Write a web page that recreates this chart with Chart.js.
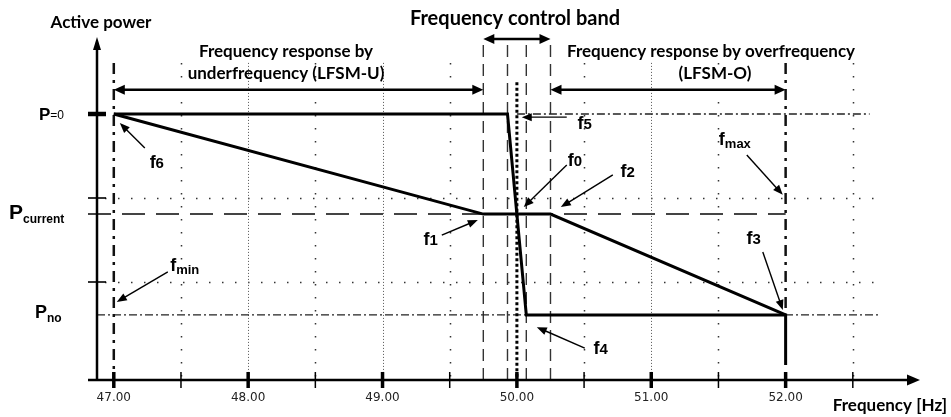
<!DOCTYPE html>
<html>
<head>
<meta charset="utf-8">
<title>LFSM frequency response</title>
<script src="https://cdn.jsdelivr.net/npm/chart.js@4.4.1/dist/chart.umd.min.js"></script>
<style>
  html, body { margin: 0; padding: 0; background: #fff; }
  canvas { display: block; }
</style>
</head>
<body>
<canvas id="chart" width="951" height="417"></canvas>
<script>
// Axis ranges (frequency in Hz, active power in % of plot height)
const xMin = 46.875, xMax = 53.0;
const yMin = 0, yMax = 100;

// Power levels
const P0 = 76.0, Pcur = 47.4, Pno = 18.6;
const pTicks = [52.0, 28.0];

// Frequency axis
const xTicks = [47, 48, 49, 50, 51, 52];
const xMinorTicks = [47.5, 48.5, 49.5, 50.5, 51.5, 52.5];
const gridFine = [48, 49, 51];
const gridTop = 90.6;
const gridRight = 52.66;

// Characteristic starting at P=0 (steps through the control band)
const stepFreq = [47.00, 49.93, 50.07, 52.00, 52.00];
const stepPower = [P0, P0, Pno, Pno, 4.3];

// Characteristic starting at P current (LFSM-U / LFSM-O droop)
const droopFreq = [47.00, 49.75, 50.25, 52.00];
const droopPower = [P0, Pcur, Pcur, Pno];

// Control band edges and limits
const bandFreq = [49.75, 49.93, 50.07, 50.25];
const fNom = 50.0, fMin = 47.0, fMax = 52.0;

// Annotations: text, subscript, label x/y, arrow from x/y, arrow tip x/y
const notes = [
    ['f', '6',   47.320, 62.3, 47.231, 66.3, 47.045, 73.4],
    ['f', 'min', 47.528, 33.1, 47.402, 30.9, 47.022, 22.3],
    ['f', '1',   49.359, 40.3, 49.441, 41.4, 49.709, 45.7],
    ['f', '0',   50.431, 62.9, 50.371, 61.4, 50.051, 49.4],
    ['f', '2',   50.825, 60.0, 50.714, 58.6, 50.327, 49.4],
    ['f', '5',   50.505, 73.7, 50.371, 75.1, 50.036, 75.1],
    ['f', 'max', 51.622, 69.1, 51.711, 64.3, 51.979, 52.9],
    ['f', '3',   51.763, 40.6, 51.830, 36.6, 51.979, 20.0],
    ['f', '4',   50.624, 9.4,  50.505, 9.1,  50.148, 15.1]
];

// Double arrows: from, to, level
const spans = [
    [49.75, 50.25, 97.4],
    [47.00, 49.75, 82.9],
    [50.25, 52.00, 82.9]
];

function pts(xs, ys) {
    return xs.map((x, i) => ({ x: x, y: ys[i] }));
}

function lineSet(data, width, dash, color, extra) {
    return Object.assign({
        data: data,
        showLine: true,
        pointRadius: 0,
        borderColor: color || '#000',
        borderWidth: width,
        borderDash: dash || [],
        borderCapStyle: 'butt',
        borderJoinStyle: 'miter',
        fill: false,
        tension: 0
    }, extra || {});
}

const datasets = [
    lineSet(pts(stepFreq, stepPower), 3, [], '#000', { order: 0 }),
    lineSet(pts(droopFreq, droopPower), 3, [], '#000', { order: 1 }),
    lineSet([{ x: 46.808, y: Pcur }, { x: fMax, y: Pcur }], 2, [23, 11], '#444', { order: 5, clip: false }),
    lineSet([{ x: fNom, y: P0 }, { x: 52.625, y: P0 }], 1.3, [8, 3, 2, 3], '#222', { order: 5 }),
    lineSet([{ x: xMin, y: Pno }, { x: 52.70, y: Pno }], 1.3, [8, 3, 2, 3], '#222', { order: 5 }),
    lineSet([{ x: fMin, y: gridTop }, { x: fMin, y: 2.3 }], 2.5, [11, 6, 3, 6], '#111', { order: 3 }),
    lineSet([{ x: fMax, y: gridTop }, { x: fMax, y: Pno }], 2.5, [11, 6, 3, 6], '#111', { order: 3 }),
    lineSet([{ x: fNom, y: 85.1 }, { x: fNom, y: 0 }], 3, [3, 2.5], '#000', { order: 2 })
];
bandFreq.forEach(f => {
    datasets.push(lineSet([{ x: f, y: 95.7 }, { x: f, y: 0 }], 1.4, [12, 7], '#333', { order: 6 }));
});

function head(ctx, x1, y1, x2, y2, len, half) {
    const a = Math.atan2(y2 - y1, x2 - x1);
    const c = Math.cos(a), s = Math.sin(a);
    ctx.beginPath();
    ctx.moveTo(x2, y2);
    ctx.lineTo(x2 - len * c + half * s, y2 - len * s - half * c);
    ctx.lineTo(x2 - len * c - half * s, y2 - len * s + half * c);
    ctx.closePath();
    ctx.fill();
}

function arrow(ctx, x1, y1, x2, y2, w, len, half) {
    const a = Math.atan2(y2 - y1, x2 - x1);
    ctx.lineWidth = w;
    ctx.beginPath();
    ctx.moveTo(x1, y1);
    ctx.lineTo(x2 - (len - 1) * Math.cos(a), y2 - (len - 1) * Math.sin(a));
    ctx.stroke();
    head(ctx, x1, y1, x2, y2, len, half);
}

function subText(ctx, main, sub, x, base, mainFont, subFont, drop, centered) {
    ctx.font = mainFont;
    const w1 = ctx.measureText(main).width;
    ctx.font = subFont;
    const w2 = ctx.measureText(sub).width;
    const left = centered ? x - (w1 + w2) / 2 : x;
    ctx.textAlign = 'left';
    ctx.textBaseline = 'alphabetic';
    ctx.font = mainFont;
    ctx.fillText(main, left, base);
    ctx.font = subFont;
    ctx.fillText(sub, left + w1, base + drop);
}

function centerText(ctx, text, x, y, font) {
    ctx.font = font;
    ctx.textAlign = 'center';
    ctx.textBaseline = 'middle';
    ctx.fillText(text, x, y);
}

const diagram = {
    id: 'diagram',
    beforeDatasetsDraw(chart) {
        const ctx = chart.ctx, xs = chart.scales.x, ys = chart.scales.y;
        ctx.save();
        ctx.strokeStyle = '#333';
        ctx.lineWidth = 1.5;
        // sparse dotted grid on half Hz
        ctx.setLineDash([1.5, 11.5]);
        xMinorTicks.forEach(f => {
            const px = Math.round(xs.getPixelForValue(f)) + 0.5;
            ctx.beginPath();
            ctx.moveTo(px, ys.getPixelForValue(gridTop));
            ctx.lineTo(px, ys.getPixelForValue(0));
            ctx.stroke();
        });
        pTicks.forEach(p => {
            const py = Math.round(ys.getPixelForValue(p)) + 0.5;
            ctx.beginPath();
            ctx.moveTo(xs.getPixelForValue(xMin) + 8, py);
            ctx.lineTo(xs.getPixelForValue(gridRight), py);
            ctx.stroke();
        });
        // fine dotted grid on whole Hz
        ctx.lineWidth = 1;
        ctx.strokeStyle = '#555';
        ctx.setLineDash([1, 2]);
        gridFine.forEach(f => {
            const px = Math.round(xs.getPixelForValue(f)) + 0.5;
            ctx.beginPath();
            ctx.moveTo(px, ys.getPixelForValue(gridTop));
            ctx.lineTo(px, ys.getPixelForValue(0));
            ctx.stroke();
        });
        ctx.restore();
    },
    afterDatasetsDraw(chart) {
        const ctx = chart.ctx, xs = chart.scales.x, ys = chart.scales.y;
        const X = v => xs.getPixelForValue(v), Y = v => ys.getPixelForValue(v);
        const ax = X(xMin), ay = Y(yMin);
        ctx.save();
        ctx.setLineDash([]);
        ctx.strokeStyle = '#000';
        ctx.fillStyle = '#000';

        // axes with arrows
        arrow(ctx, ax, ay, ax, Y(yMax) + 7, 2.5, 13, 4);
        arrow(ctx, ax - 9, ay, X(xMax), ay, 2.5, 13, 5.5);

        // frequency ticks
        xMinorTicks.forEach(f => {
            ctx.lineWidth = 1.5;
            ctx.beginPath(); ctx.moveTo(X(f), ay - 8); ctx.lineTo(X(f), ay + 8); ctx.stroke();
        });
        xTicks.forEach(f => {
            ctx.lineWidth = 3.5;
            ctx.beginPath(); ctx.moveTo(X(f), ay - 8); ctx.lineTo(X(f), ay + 8); ctx.stroke();
        });
        ctx.fillStyle = '#222';
        xTicks.forEach(f => centerText(ctx, f.toFixed(2), X(f), ay + 18, '12px "DejaVu Sans"'));
        ctx.fillStyle = '#000';

        // power ticks
        ctx.lineWidth = 4.5;
        ctx.beginPath(); ctx.moveTo(ax - 9, Y(P0)); ctx.lineTo(ax + 9, Y(P0)); ctx.stroke();
        ctx.lineWidth = 1.6;
        pTicks.forEach(p => {
            ctx.beginPath(); ctx.moveTo(ax - 9, Y(p)); ctx.lineTo(ax + 9, Y(p)); ctx.stroke();
        });

        // double arrows
        spans.forEach(s => {
            const x1 = X(s[0]), x2 = X(s[1]), y = Y(s[2]);
            ctx.lineWidth = 2.5;
            ctx.beginPath(); ctx.moveTo(x1 + 10, y); ctx.lineTo(x2 - 10, y); ctx.stroke();
            head(ctx, x2, y, x1, y, 11, 5);
            head(ctx, x1, y, x2, y, 11, 5);
        });

        // annotation arrows and labels
        notes.forEach(n => {
            arrow(ctx, X(n[4]), Y(n[5]), X(n[6]), Y(n[7]), 1.4, 10, 4);
            const isDigit = /^\d$/.test(n[1]);
            subText(ctx, n[0], n[1], X(n[2]), Y(n[3]) + 6.5,
                'bold 18px "Liberation Sans"',
                isDigit ? 'bold 15px "Liberation Sans"' : 'bold 13px "Liberation Sans"',
                isDigit ? 0 : 3, true);
        });

        // power level labels
        subText(ctx, 'P', '=0', 39, Y(P0) + 5.5, 'bold 17px "Liberation Sans"', '12px "Liberation Sans"', -1, false);
        subText(ctx, 'P', 'current', 9, Y(Pcur) + 4.5, 'bold 21px "Liberation Sans"', 'bold 12px "Liberation Sans"', 4, false);
        subText(ctx, 'P', 'no', 35, Y(Pno) + 3.5, 'bold 18px "Liberation Sans"', 'bold 12px "Liberation Sans"', 4, false);

        // titles
        const head1 = 'bold 17px Lato';
        centerText(ctx, 'Active power', 101, 23, head1);
        centerText(ctx, 'Frequency control band', 515, 19, 'bold 20px Lato');
        centerText(ctx, 'Frequency response by', 286, 52, head1);
        centerText(ctx, 'underfrequency (LFSM-U)', 286, 74, head1);
        centerText(ctx, 'Frequency response by overfrequency', 711, 52, head1);
        centerText(ctx, '(LFSM-O)', 715, 74, head1);
        centerText(ctx, 'Frequency [Hz]', 890, 406, head1);
        ctx.restore();
    }
};

new Chart(document.getElementById('chart'), {
    type: 'scatter',
    data: { datasets: datasets },
    options: {
        responsive: false,
        devicePixelRatio: 1,
        animation: false,
        events: [],
        layout: { padding: { left: 97, right: 31, top: 30, bottom: 37 } },
        plugins: { legend: { display: false }, tooltip: { enabled: false } },
        scales: {
            x: { type: 'linear', min: xMin, max: xMax, display: false },
            y: { type: 'linear', min: yMin, max: yMax, display: false }
        }
    },
    plugins: [diagram]
});
</script>
</body>
</html>
